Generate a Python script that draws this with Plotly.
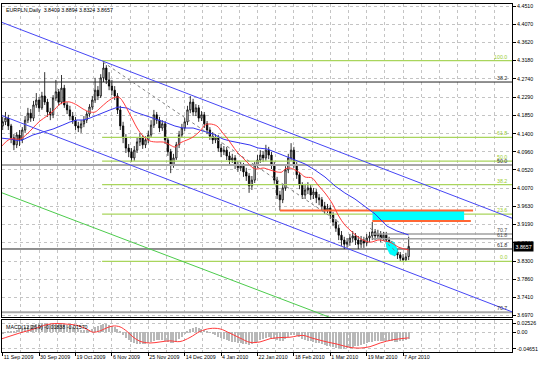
import plotly.graph_objects as go
from plotly.subplots import make_subplots

# ---------------- data (EURPLN daily, bar index 0 = 11 Sep 2009) ----------------
open_ = [4.159, 4.169, 4.178, 4.159, 4.130, 4.113, 4.137, 4.125, 4.149, 4.173,
         4.190, 4.178, 4.210, 4.222, 4.203, 4.232, 4.217, 4.193, 4.186, 4.227,
         4.242, 4.217, 4.251, 4.210, 4.198, 4.183, 4.173, 4.159, 4.154, 4.164,
         4.173, 4.188, 4.205, 4.222, 4.246, 4.232, 4.276, 4.300, 4.271, 4.256,
         4.246, 4.232, 4.198, 4.159, 4.130, 4.105, 4.096, 4.081, 4.100, 4.120,
         4.130, 4.113, 4.125, 4.137, 4.161, 4.186, 4.173, 4.154, 4.164, 4.125,
         4.096, 4.064, 4.081, 4.113, 4.137, 4.154, 4.169, 4.198, 4.217, 4.193,
         4.203, 4.178, 4.186, 4.164, 4.149, 4.134, 4.125, 4.130, 4.105, 4.096,
         4.100, 4.086, 4.076, 4.081, 4.064, 4.057, 4.061, 4.047, 4.037, 4.013,
         4.027, 4.064, 4.076, 4.088, 4.081, 4.100, 4.088, 4.064, 4.027, 3.991,
         3.979, 4.008, 4.052, 4.081, 4.100, 4.064, 4.040, 4.015, 3.991, 4.003,
         4.008, 3.991, 3.998, 3.984, 3.979, 3.964, 3.954, 3.959, 3.942, 3.925,
         3.910, 3.893, 3.881, 3.871, 3.876, 3.886, 3.891, 3.881, 3.871, 3.881,
         3.874, 3.886, 3.891, 3.901, 3.891, 3.896, 3.886, 3.893, 3.881, 3.871,
         3.862, 3.852, 3.845, 3.837, 3.833, 3.8409]
high = [4.181, 4.193, 4.186, 4.164, 4.139, 4.144, 4.149, 4.156, 4.183, 4.203,
        4.200, 4.220, 4.239, 4.229, 4.242, 4.290, 4.225, 4.203, 4.234, 4.271,
        4.249, 4.283, 4.259, 4.217, 4.208, 4.193, 4.181, 4.169, 4.173, 4.183,
        4.195, 4.212, 4.232, 4.276, 4.256, 4.285, 4.318, 4.307, 4.290, 4.271,
        4.256, 4.239, 4.208, 4.169, 4.139, 4.115, 4.105, 4.110, 4.130, 4.142,
        4.137, 4.134, 4.147, 4.173, 4.198, 4.193, 4.181, 4.173, 4.171, 4.132,
        4.103, 4.091, 4.120, 4.147, 4.164, 4.178, 4.208, 4.232, 4.225, 4.212,
        4.210, 4.195, 4.193, 4.171, 4.156, 4.144, 4.139, 4.137, 4.115, 4.110,
        4.108, 4.096, 4.091, 4.088, 4.074, 4.071, 4.069, 4.057, 4.044, 4.037,
        4.071, 4.088, 4.100, 4.098, 4.113, 4.108, 4.096, 4.071, 4.035, 4.001,
        4.018, 4.061, 4.091, 4.117, 4.108, 4.071, 4.047, 4.022, 4.018, 4.022,
        4.015, 4.008, 4.005, 3.993, 3.986, 3.974, 3.969, 3.966, 3.949, 3.932,
        3.918, 3.903, 3.889, 3.886, 3.896, 3.903, 3.898, 3.891, 3.891, 3.889,
        3.896, 3.901, 3.925, 3.908, 3.906, 3.903, 3.901, 3.901, 3.889, 3.879,
        3.869, 3.859, 3.852, 3.847, 3.850, 3.8894]
low = [4.149, 4.161, 4.149, 4.117, 4.100, 4.105, 4.110, 4.117, 4.142, 4.166,
       4.169, 4.171, 4.203, 4.193, 4.198, 4.210, 4.181, 4.173, 4.178, 4.220,
       4.208, 4.212, 4.203, 4.188, 4.173, 4.164, 4.149, 4.144, 4.142, 4.156,
       4.166, 4.181, 4.198, 4.215, 4.222, 4.227, 4.266, 4.261, 4.246, 4.234,
       4.222, 4.188, 4.149, 4.117, 4.093, 4.083, 4.071, 4.074, 4.093, 4.110,
       4.103, 4.105, 4.117, 4.130, 4.154, 4.164, 4.144, 4.147, 4.115, 4.086,
       4.044, 4.057, 4.076, 4.105, 4.130, 4.147, 4.161, 4.190, 4.183, 4.183,
       4.169, 4.171, 4.154, 4.139, 4.125, 4.115, 4.117, 4.096, 4.083, 4.088,
       4.076, 4.066, 4.069, 4.054, 4.047, 4.049, 4.035, 4.025, 3.996, 4.003,
       4.020, 4.057, 4.069, 4.071, 4.074, 4.078, 4.054, 4.018, 3.981, 3.953,
       3.971, 4.001, 4.044, 4.074, 4.057, 4.030, 4.005, 3.981, 3.981, 3.993,
       3.979, 3.981, 3.971, 3.966, 3.954, 3.945, 3.947, 3.932, 3.915, 3.901,
       3.881, 3.867, 3.859, 3.862, 3.867, 3.876, 3.869, 3.859, 3.862, 3.862,
       3.867, 3.876, 3.881, 3.881, 3.884, 3.876, 3.879, 3.871, 3.862, 3.852,
       3.842, 3.835, 3.830, 3.829, 3.830, 3.8324]
close = [4.169, 4.178, 4.159, 4.130, 4.113, 4.137, 4.125, 4.149, 4.173, 4.190,
         4.178, 4.210, 4.222, 4.203, 4.232, 4.217, 4.193, 4.186, 4.227, 4.242,
         4.217, 4.251, 4.210, 4.198, 4.183, 4.173, 4.159, 4.154, 4.164, 4.173,
         4.188, 4.205, 4.222, 4.246, 4.232, 4.276, 4.300, 4.271, 4.256, 4.246,
         4.232, 4.198, 4.159, 4.130, 4.105, 4.096, 4.081, 4.100, 4.120, 4.130,
         4.113, 4.125, 4.137, 4.161, 4.186, 4.173, 4.154, 4.164, 4.125, 4.096,
         4.064, 4.081, 4.113, 4.137, 4.154, 4.169, 4.198, 4.217, 4.193, 4.203,
         4.178, 4.186, 4.164, 4.149, 4.134, 4.125, 4.130, 4.105, 4.096, 4.100,
         4.086, 4.076, 4.081, 4.064, 4.057, 4.061, 4.047, 4.037, 4.013, 4.027,
         4.064, 4.076, 4.088, 4.081, 4.100, 4.088, 4.064, 4.027, 3.991, 3.979,
         4.008, 4.052, 4.081, 4.100, 4.064, 4.040, 4.015, 3.991, 4.003, 4.008,
         3.991, 3.998, 3.984, 3.979, 3.964, 3.954, 3.959, 3.942, 3.925, 3.910,
         3.893, 3.881, 3.871, 3.876, 3.886, 3.891, 3.881, 3.871, 3.881, 3.874,
         3.886, 3.891, 3.901, 3.891, 3.896, 3.886, 3.893, 3.881, 3.871, 3.862,
         3.852, 3.845, 3.837, 3.833, 3.840, 3.8657]

# fast (red) and slow (blue) moving averages, read at sampled bars
ma_fast_x = [-0.3, 2.6, 6.2, 8.7, 10.8, 13.3, 15.8, 18.0, 20.5, 22.3, 24.0, 26.5, 28.7, 31.2,
             33.0, 34.8, 37.2, 39.4, 40.8, 41.9, 43.0, 44.8, 46.5, 48.0, 50.1, 52.6, 55.1,
             57.3, 59.8, 61.5, 63.3, 65.8, 68.0, 70.5, 72.3, 74.0, 76.5, 78.3, 80.1, 81.9,
             83.7, 85.8, 87.6, 89.4, 91.2, 93.0, 95.5, 98.0, 99.8, 100.8, 102.6, 104.4,
             106.2, 108.0, 110.5, 112.6, 115.1, 117.6, 119.8, 122.2, 124.8, 126.9, 129.4,
             131.9, 134.0, 136.5, 139.0, 141.2, 145.0]
ma_fast_y = [4.1101, 4.1271, 4.1271, 4.1393, 4.1539, 4.1710, 4.1831, 4.1953, 4.2124, 4.2172,
             4.2172, 4.2099, 4.2002, 4.1929, 4.1929, 4.2026, 4.2172, 4.2270, 4.2294, 4.2270,
             4.2172, 4.1953, 4.1734, 4.1539, 4.1344, 4.1223, 4.1198, 4.1198, 4.1125, 4.1077,
             4.1174, 4.1247, 4.1320, 4.1466, 4.1612, 4.1637, 4.1588, 4.1442, 4.1295, 4.1125,
             4.0955, 4.0809, 4.0687, 4.0565, 4.0541, 4.0565, 4.0517, 4.0468, 4.0468, 4.0541,
             4.0565, 4.0517, 4.0444, 4.0346, 4.0322, 4.0151, 3.9957, 3.9713, 3.9421, 3.9177,
             3.9007, 3.8885, 3.8788, 3.8763, 3.8812, 3.8788, 3.8739, 3.8642, 3.8569]
ma_slow_x = [-1.0, 2.6, 6.2, 8.7, 10.8, 14.4, 18.0, 21.5, 24.0, 26.5, 28.7, 31.2, 33.7, 35.8,
             38.3, 41.2, 44.4, 47.2, 50.1, 55.1, 58.7, 61.5, 64.4, 68.0, 71.5, 75.1, 78.7,
             81.2, 84.8, 88.3, 91.2, 94.4, 97.2, 100.8, 104.4, 108.0, 111.5, 115.1, 118.7,
             122.2, 125.8, 129.4, 133.0, 137.2, 140.8, 145.0]
ma_slow_y = [4.1296, 4.1271, 4.1223, 4.1296, 4.1369, 4.1442, 4.1515, 4.1612, 4.1685, 4.1734,
             4.1734, 4.1783, 4.1856, 4.1904, 4.1978, 4.2051, 4.2026, 4.1929, 4.1856, 4.1747,
             4.1661, 4.1588, 4.1539, 4.1539, 4.1466, 4.1393, 4.1271, 4.1223, 4.1174, 4.1125,
             4.1052, 4.1028, 4.0955, 4.0857, 4.0760, 4.0663, 4.0517, 4.0346, 4.0127, 3.9957,
             3.9810, 3.9616, 3.9445, 3.9153, 3.9031, 3.8934]

# MACD(12,26,9): main line as histogram per bar, signal line sampled
macd_main = [-0.004, -0.002, 0.001, 0.003, 0.004, 0.006, 0.008, 0.011, 0.014, 0.017,
             0.019, 0.021, 0.023, 0.024, 0.025, 0.0253, 0.024, 0.023, 0.024, 0.025,
             0.024, 0.025, 0.023, 0.020, 0.017, 0.014, 0.011, 0.008, 0.006, 0.005,
             0.005, 0.007, 0.010, 0.014, 0.016, 0.020, 0.023, 0.022, 0.020, 0.017,
             0.013, 0.008, 0.001, -0.007, -0.015, -0.021, -0.027, -0.030, -0.032, -0.033,
             -0.034, -0.033, -0.031, -0.028, -0.024, -0.022, -0.021, -0.022, -0.024, -0.027,
             -0.030, -0.029, -0.025, -0.019, -0.012, -0.005, 0.002, 0.008, 0.011, 0.013,
             0.012, 0.010, 0.007, 0.003, -0.001, -0.005, -0.009, -0.013, -0.017, -0.020,
             -0.022, -0.024, -0.026, -0.028, -0.029, -0.030, -0.032, -0.033, -0.035, -0.034,
             -0.030, -0.026, -0.022, -0.019, -0.016, -0.014, -0.015, -0.018, -0.022, -0.025,
             -0.023, -0.018, -0.013, -0.009, -0.009, -0.011, -0.014, -0.018, -0.021, -0.023,
             -0.025, -0.027, -0.029, -0.031, -0.033, -0.035, -0.037, -0.039, -0.041, -0.043,
             -0.045, -0.0465, -0.0465, -0.045, -0.043, -0.041, -0.039, -0.037, -0.035, -0.033,
             -0.031, -0.028, -0.026, -0.025, -0.024, -0.024, -0.023, -0.023, -0.024, -0.025,
             -0.026, -0.026, -0.025, -0.024, -0.022, -0.01838]
signal_x = [-1.0, 2.6, 6.2, 9.8, 13.3, 15.8, 19.4, 23.0, 26.5, 30.1, 32.2, 34.8, 37.2, 39.4,
            41.9, 44.4, 46.5, 49.0, 52.6, 56.2, 59.7, 63.3, 66.9, 70.5, 74.0, 77.6, 81.2,
            84.7, 88.3, 91.9, 95.5, 99.0, 102.6, 107.2, 110.8, 115.8, 119.4, 124.0, 127.6,
            131.2, 134.8, 139.4, 145.0]
signal_y = [-0.020, -0.011, -0.002, 0.0055, 0.0146, 0.021, 0.024, 0.022, 0.019, 0.008, 0.0,
            0.0036, 0.012, 0.017, 0.0146, 0.002, -0.013, -0.025, -0.030, -0.027, -0.024,
            -0.026, -0.0146, 0.002, 0.010, 0.009, -0.003, -0.016, -0.028, -0.027, -0.018,
            -0.015, -0.014, -0.009, -0.017, -0.027, -0.033, -0.042, -0.044, -0.040, -0.030,
            -0.021, -0.0157]

# axis labels
date_ticks = [0, 13, 26, 39, 52, 65, 78, 91, 104, 117, 130, 143]
date_labels = ["11 Sep 2009", "30 Sep 2009", "19 Oct 2009", "6 Nov 2009", "25 Nov 2009",
               "14 Dec 2009", "4 Jan 2010", "22 Jan 2010", "18 Feb 2010", "1 Mar 2010",
               "19 Mar 2010", "7 Apr 2010"]
price_ticks = [4.4510, 4.4070, 4.3620, 4.3180, 4.2740, 4.2290, 4.1850, 4.1400, 4.0960,
               4.0520, 4.0070, 3.9630, 3.9190, 3.8740, 3.8300, 3.7860, 3.7410, 3.6970]
macd_ticks = [0.02526, 0.0, -0.04651]
macd_tick_labels = ["0.02526", "0.00", "-0.04651"]

# drawing objects (bar index / price)
chan_x = [-1.0, 182.0]
chan_upper = [4.413, 3.934]
chan_lower = [4.186, 3.706]
chan_green = [3.998, 3.524]
dash1_x = [35.8, 120.5]
dash1_y = [4.3146, 3.9226]
dash2_x = [131.2, 143.0]
dash2_y = [3.9104, 3.8374]
fib_green_labels = ["100.0", "61.8", "50.0", "38.2", "23.6", "0.0"]
fib_green_prices = [4.318, 4.1312, 4.0735, 4.0158, 3.9444, 3.829]
fib_green_start = 35.5
fib_dark_labels = ["38.2", "50.0", "61.8", "70.7"]
fib_dark_prices = [4.2659, 4.0638, 3.8593, 3.7051]
fib_short_labels = ["70.7", "61.8"]
fib_short_prices = [3.8958, 3.8844]
fib_short_start = 132.0
zone_x = [132.1, 164.8]
zone_y = [3.9275, 3.953]
orange_top_x = [99.0, 168.0]
orange_top_y = 3.953
orange_bot_x = [132.0, 167.2]
orange_bot_y = 3.9275
blob_x = [136.9, 139.75, 141.2, 140.1, 138.3, 136.9]
blob_y = [3.8763, 3.8763, 3.8544, 3.8422, 3.8471, 3.8666]
title_text = "EURPLN,Daily  3.8409 3.8894 3.8324 3.8657"
macd_text = "MACD(12,26,9) -0.01838 -0.01570"
last_price = 3.8657

# ---------------- figure ----------------
FONT = "Liberation Sans, Arial, sans-serif"
FS = 5.3
GRID = "#C4C4C4"
bars = list(range(len(close)))
fig = make_subplots(rows=2, cols=1, shared_xaxes=True)

# fib lines
for p in fib_green_prices:
    fig.add_trace(go.Scatter(x=[fib_green_start, chan_x[1]], y=[p, p], mode="lines",
                             line=dict(color="#A9D55C", width=1.3), hoverinfo="skip"), row=1, col=1)
dark_styles = [("#222222", 1), ("#A8A8A8", 2.2), ("#222222", 1), ("#A8A8A8", 2)]
for p, (c, w) in zip(fib_dark_prices, dark_styles):
    fig.add_trace(go.Scatter(x=chan_x, y=[p, p], mode="lines", line=dict(color=c, width=w),
                             hoverinfo="skip"), row=1, col=1)
for p in fib_short_prices:
    fig.add_trace(go.Scatter(x=[fib_short_start, chan_x[1]], y=[p, p], mode="lines",
                             line=dict(color="#A0A0A0", width=1.5), hoverinfo="skip"), row=1, col=1)

# cyan zone and blob
fig.add_trace(go.Scatter(x=[zone_x[0], zone_x[1], zone_x[1], zone_x[0], zone_x[0]],
                         y=[zone_y[0], zone_y[0], zone_y[1], zone_y[1], zone_y[0]],
                         mode="lines", fill="toself", fillcolor="#00FFFF",
                         line=dict(color="#00FFFF", width=0), hoverinfo="skip"), row=1, col=1)
fig.add_trace(go.Scatter(x=blob_x, y=blob_y, mode="lines", fill="toself", fillcolor="#00FFFF",
                         line=dict(color="#00E5E5", width=0.5), hoverinfo="skip"), row=1, col=1)
fig.add_trace(go.Scatter(x=orange_top_x, y=[orange_top_y] * 2, mode="lines",
                         line=dict(color="#FF6633", width=2), hoverinfo="skip"), row=1, col=1)
fig.add_trace(go.Scatter(x=orange_bot_x, y=[orange_bot_y] * 2, mode="lines",
                         line=dict(color="#FF6633", width=2), hoverinfo="skip"), row=1, col=1)

# candles
fig.add_trace(go.Candlestick(x=bars, open=open_, high=high, low=low, close=close,
                             increasing=dict(line=dict(color="black", width=0.8), fillcolor="white"),
                             decreasing=dict(line=dict(color="black", width=0.8), fillcolor="black"),
                             whiskerwidth=0, hoverinfo="skip"), row=1, col=1)

# moving averages
fig.add_trace(go.Scatter(x=ma_slow_x, y=ma_slow_y, mode="lines",
                         line=dict(color="#3434F0", width=1), hoverinfo="skip"), row=1, col=1)
fig.add_trace(go.Scatter(x=ma_fast_x, y=ma_fast_y, mode="lines",
                         line=dict(color="#FF3B3B", width=1, shape="spline"), hoverinfo="skip"), row=1, col=1)

# channels and trend lines
for ys, col in [(chan_upper, "#4646F5"), (chan_lower, "#4646F5"), (chan_green, "#4CCB4C")]:
    fig.add_trace(go.Scatter(x=chan_x, y=ys, mode="lines", line=dict(color=col, width=1),
                             hoverinfo="skip"), row=1, col=1)
fig.add_trace(go.Scatter(x=dash1_x, y=dash1_y, mode="lines",
                         line=dict(color="#808080", width=1, dash="dot"), hoverinfo="skip"), row=1, col=1)
fig.add_trace(go.Scatter(x=dash2_x, y=dash2_y, mode="lines",
                         line=dict(color="#808080", width=1, dash="dot"), hoverinfo="skip"), row=1, col=1)

# MACD panel
fig.add_trace(go.Bar(x=bars, y=macd_main, width=0.4, marker=dict(color="#B8B8B8", line=dict(width=0)),
                     hoverinfo="skip"), row=2, col=1)
fig.add_trace(go.Scatter(x=signal_x, y=signal_y, mode="lines",
                         line=dict(color="#FF3B3B", width=1, shape="spline"), hoverinfo="skip"), row=2, col=1)

fig.update_layout(width=540, height=366, margin=dict(l=2, r=28, t=4, b=14, autoexpand=False),
                  paper_bgcolor="white", plot_bgcolor="white", showlegend=False,
                  font=dict(family=FONT, size=FS, color="black"), bargap=0)

common_x = dict(range=[-0.25, 181.9], tickmode="array", tickvals=date_ticks, showgrid=True,
                gridcolor=GRID, griddash="dot", gridwidth=1, zeroline=False,
                showline=True, linecolor="black", linewidth=1, mirror=True,
                minor=dict(dtick=6.5, tick0=0, showgrid=True, gridcolor=GRID, griddash="dot", gridwidth=1))
fig.update_layout(
    xaxis=dict(common_x, domain=[0, 1], showticklabels=False, ticks="",
               rangeslider=dict(visible=False)),
    xaxis2=dict(common_x, domain=[0, 1], ticktext=date_labels, ticks="outside", ticklen=3,
                tickcolor="black", ticklabelposition="outside right", tickangle=0,
                tickfont=dict(family=FONT, size=FS, color="black")),
    yaxis=dict(domain=[0.1006, 1], range=[3.6937, 4.4559], side="right", tickmode="array",
               tickvals=price_ticks, ticktext=["%.4f" % v for v in price_ticks],
               ticks="outside", ticklen=3, tickcolor="black", showgrid=True, gridcolor=GRID,
               griddash="dot", zeroline=False, showline=True, linecolor="black", mirror=True,
               tickfont=dict(family=FONT, size=FS, color="black")),
    yaxis2=dict(domain=[0, 0.092], range=[-0.0548, 0.0336], side="right", tickmode="array",
                tickvals=macd_ticks, ticktext=macd_tick_labels, ticks="outside", ticklen=3,
                tickcolor="black", showgrid=True, gridcolor=GRID, griddash="dot", zeroline=False,
                showline=True, linecolor="black", mirror=True,
                tickfont=dict(family=FONT, size=FS, color="black")),
)

ann = []
ann.append(dict(text=title_text, xref="paper", yref="paper", x=0.004, y=1, xanchor="left",
                yanchor="top", yshift=-1, showarrow=False, font=dict(size=FS, color="black")))
ann.append(dict(text=macd_text, xref="paper", yref="y2 domain", x=0.004, y=1, xanchor="left",
                yanchor="top", yshift=-2, showarrow=False, font=dict(size=FS, color="black")))
for lab, p in zip(fib_green_labels, fib_green_prices):
    ann.append(dict(text=lab, x=181.0, y=p, xref="x", yref="y", xanchor="right", yanchor="bottom",
                    showarrow=False, yshift=-1, font=dict(size=FS, color="#9ACD32")))
for lab, p in zip(fib_dark_labels, fib_dark_prices):
    ann.append(dict(text=lab, x=181.0, y=p, xref="x", yref="y", xanchor="right", yanchor="bottom",
                    showarrow=False, yshift=-1, font=dict(size=FS, color="#303030")))
for lab, p in zip(fib_short_labels, fib_short_prices):
    ann.append(dict(text=lab, x=181.0, y=p, xref="x", yref="y", xanchor="right", yanchor="bottom",
                    showarrow=False, yshift=-1, font=dict(size=FS, color="#505050")))
ann.append(dict(text="%.4f" % last_price, xref="paper", yref="y", x=1, y=last_price,
                xanchor="left", yanchor="middle", xshift=1, showarrow=False, bgcolor="black",
                borderpad=1.5, font=dict(size=FS, color="white")))
fig.update_layout(annotations=ann)

fig.write_html("out.html", config={"displayModeBar": False},
               post_script="document.body.style.margin='0px';document.body.style.overflow='hidden';")
